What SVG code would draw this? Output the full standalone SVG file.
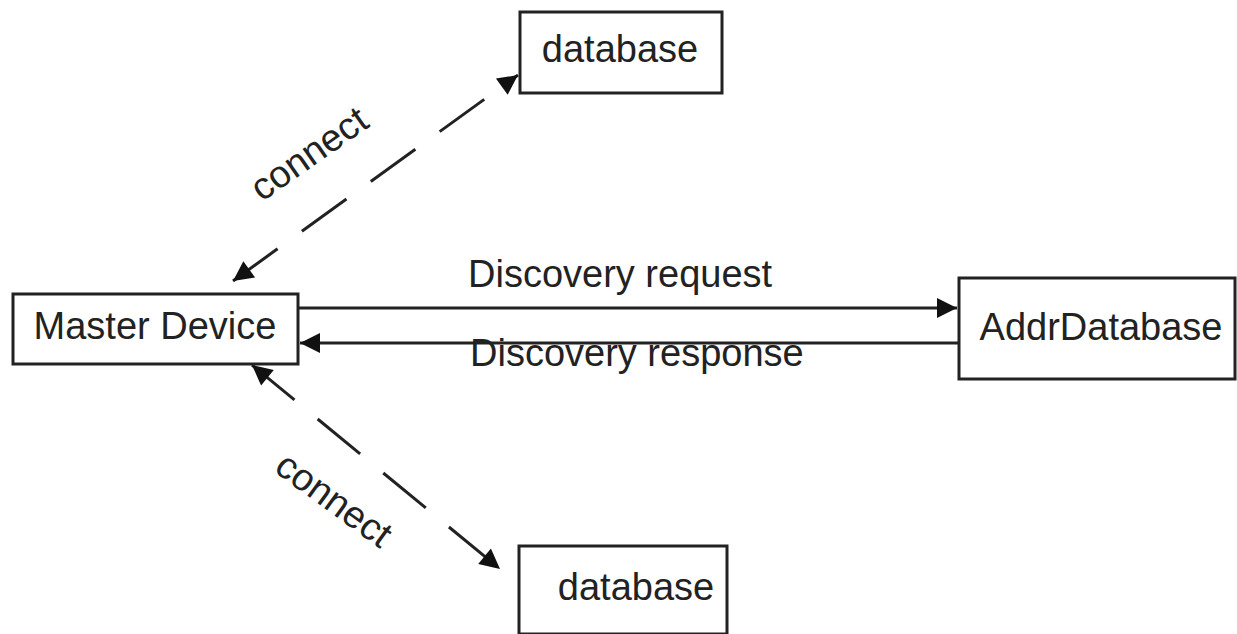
<svg xmlns="http://www.w3.org/2000/svg" width="1237" height="634" viewBox="0 0 1237 634">
<style>
.box{fill:#fff;stroke:#222;stroke-width:3}
.t{font-family:"Liberation Sans",Arial,sans-serif;font-size:38px;fill:#222}
.ln{stroke:#222;stroke-width:3;fill:none}
.dash{stroke-dasharray:55 30}
</style>
<defs>
<marker id="ah" viewBox="0 0 10 10" refX="10" refY="5" markerWidth="24" markerHeight="20" markerUnits="userSpaceOnUse" orient="auto-start-reverse">
<path d="M0,0 L10,5 L0,10 Z" fill="#111"/>
</marker>
</defs>
<rect width="1237" height="634" fill="#fff"/>
<g id="connectors">
<line class="ln dash" x1="233" y1="281" x2="518" y2="75" marker-start="url(#ah)" marker-end="url(#ah)"/>
<line class="ln dash" x1="252" y1="365" x2="500" y2="569" marker-start="url(#ah)" marker-end="url(#ah)"/>
<line class="ln" x1="298" y1="308" x2="957" y2="308" marker-end="url(#ah)"/>
<line class="ln" x1="959" y1="343" x2="300" y2="343" marker-end="url(#ah)"/>
<text class="t" x="310" y="166" font-size="33" text-anchor="middle" transform="rotate(-35 310 155)">connect</text>
<text class="t" x="333" y="512" font-size="33" text-anchor="middle" transform="rotate(36 333 501)">connect</text>
<text class="t" x="468" y="287">Discovery request</text>
<text class="t" x="470" y="366">Discovery response</text>
</g>
<g id="db-top">
<rect class="box" x="520" y="12" width="202" height="81"/>
<text class="t" x="620" y="62" text-anchor="middle">database</text>
</g>
<g id="master">
<rect class="box" x="13" y="294" width="285" height="70"/>
<text class="t" x="155" y="339" text-anchor="middle">Master Device</text>
</g>
<g id="addr">
<rect class="box" x="959" y="278" width="276" height="101"/>
<text class="t" x="1101" y="340" text-anchor="middle">AddrDatabase</text>
</g>
<g id="db-bottom">
<rect class="box" x="519" y="546" width="208" height="88"/>
<text class="t" x="636" y="600" text-anchor="middle">database</text>
</g>
</svg>
